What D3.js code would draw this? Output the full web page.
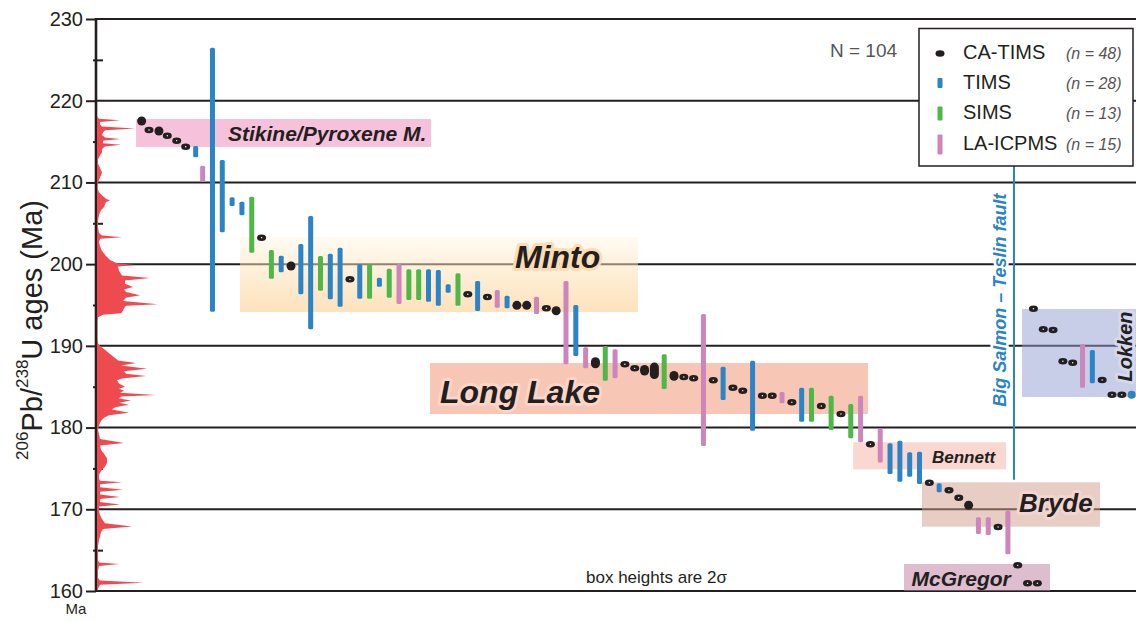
<!DOCTYPE html>
<html>
<head>
<meta charset="utf-8">
<script src="https://cdn.jsdelivr.net/npm/d3@7"></script>
<style>
  html, body { margin: 0; padding: 0; background: #fff; }
  svg { display: block; font-family: "Liberation Sans", Arial, Helvetica, sans-serif; }
</style>
</head>
<body>
<svg id="chart" width="1136" height="622"></svg>
<script>
// ---- Samples: plot order, analytical method and 2-sigma age bounds (Ma) ----
const sampleOrder = [
  1.79, 2.54, 3.55, 4.40, 5.36, 6.27, 7.29, 8, 9, 10,
  11, 12, 13, 14, 15, 16, 17, 18, 19, 20,
  21, 22, 23, 24, 25, 26, 27, 28, 29, 30,
  31, 32, 33, 34, 35, 36, 37, 38, 39, 40,
  41, 42, 43, 44, 45, 46, 47, 48, 49, 50,
  51, 52, 53, 54, 55, 56, 57, 58, 59, 60,
  61, 62, 63, 64, 65, 66, 67, 68, 69, 70,
  71, 72, 73, 74, 75, 76, 77, 78, 79, 80,
  81, 82, 83, 84, 85, 86, 87, 88, 89, 90,
  91, 92, 93, 92.6, 93.6, 94.6, 95.6, 96.6, 97.6, 98.6,
  99.6, 100.6, 101.6, 102.6
];
// C = CA-TIMS, T = TIMS, S = SIMS, L = LA-ICPMS
const sampleMethod = [
  "C","C","C","C","C","C","T","L","T","T",
  "T","T","S","C","S","T","C","T","T","S",
  "T","T","C","T","S","T","S","L","S","S",
  "T","T","T","S","C","T","C","L","T","C",
  "C","L","C","C","L","T","L","C","S","L",
  "C","C","C","C","S","C","C","C","L","C",
  "T","C","C","T","C","C","L","C","T","S",
  "C","S","C","S","L","C","L","T","T","T",
  "T","C","T","C","C","C","L","L","C","L",
  "C","C","C","C","C","C","C","C","L","T",
  "C","C","C","T"
];
const ageLow = [
  216.97, 216.27, 215.74, 215.57, 214.96, 214.22, 213.08, 210.05, 194.18, 203.90,
  207.12, 205.98, 201.40, 203.09, 198.22, 199.00, 199.22, 196.31, 192.03, 196.75,
  195.70, 194.79, 197.99, 195.77, 195.77, 197.24, 195.89, 195.12, 195.61, 195.61,
  195.40, 194.91, 196.50, 194.91, 195.91, 194.27, 195.58, 194.67, 194.60, 194.41,
  194.41, 193.90, 194.45, 193.75, 187.74, 188.76, 187.25, 187.26, 185.74, 186.03,
  187.59, 187.10, 186.36, 185.95, 184.72, 185.73, 186.04, 185.88, 177.75, 185.39,
  183.37, 184.73, 184.37, 179.62, 183.75, 183.75, 182.97, 182.95, 180.72, 180.72,
  182.49, 179.70, 181.51, 178.69, 178.20, 177.80, 175.73, 174.32, 173.38, 173.99,
  173.09, 173.10, 172.08, 172.17, 171.27, 169.94, 166.98, 166.85, 167.43, 164.49,
  162.99, 160.79, 160.79, 194.40, 191.88, 191.79, 187.96, 187.79, 184.88, 185.42,
  185.67, 183.87, 183.87, 183.82
];
const ageHigh = [
  218.07, 216.57, 216.84, 215.87, 215.26, 214.52, 214.46, 212.05, 226.49, 212.74,
  208.18, 207.64, 208.25, 203.39, 201.73, 201.03, 200.32, 202.46, 205.89, 200.99,
  201.28, 202.01, 198.29, 199.98, 199.98, 198.34, 199.44, 200.05, 199.37, 199.37,
  199.37, 199.28, 197.53, 198.88, 196.71, 197.94, 196.38, 196.84, 196.14, 195.51,
  195.51, 196.02, 194.75, 194.85, 197.94, 195.00, 189.82, 188.60, 189.98, 189.58,
  187.89, 187.40, 187.66, 187.95, 188.97, 186.93, 186.34, 186.18, 193.90, 186.19,
  187.45, 185.03, 184.67, 188.18, 184.05, 184.05, 184.35, 183.25, 184.88, 184.88,
  182.79, 183.90, 181.81, 182.88, 183.90, 178.10, 179.86, 178.08, 178.39, 176.97,
  177.05, 173.40, 173.18, 172.47, 171.57, 171.04, 169.02, 169.02, 168.23, 169.83,
  163.29, 161.09, 161.09, 194.70, 192.18, 192.09, 188.26, 188.09, 190.23, 189.49,
  185.97, 184.17, 184.17, 184.22
];

// ---- Probability density of all ages (relative units) ----
const pdfAge = [
  218.1, 217.8, 217.6, 217.4, 217.1, 216.85, 216.6, 216.4, 216.1, 215.8,
  215.5, 215.3, 215.1, 214.8, 214.6, 214.4, 214.1, 213.7, 213.3, 212.8,
  212.3, 211.8, 211.2, 210.6, 210.0, 209.3, 208.8, 208.3, 208.0, 207.8,
  207.6, 207.3, 207.0, 206.6, 206.0, 205.3, 204.5, 203.8, 203.5, 203.3,
  203.1, 202.7, 202.2, 201.6, 201.0, 200.5, 200.1, 199.9, 199.7, 199.2,
  198.6, 198.3, 198.0, 197.6, 197.2, 196.9, 196.6, 196.2, 195.9, 195.5,
  195.1, 194.9, 194.6, 194.3, 194.0, 193.8, 193.5, 193.0, 191.0, 190.3,
  190.0, 189.7, 189.3, 188.9, 188.5, 188.2, 187.9, 187.6, 187.2, 186.9,
  186.6, 186.3, 186.0, 185.8, 185.4, 185.0, 184.75, 184.5, 184.25, 184.0,
  183.8, 183.55, 183.3, 183.05, 182.8, 182.5, 182.2, 181.8, 181.5, 181.2,
  180.8, 180.3, 179.7, 179.2, 178.6, 178.1, 177.8, 177.3, 176.8, 176.2,
  175.7, 175.2, 174.7, 174.2, 173.8, 173.5, 173.3, 173.05, 172.7, 172.4,
  172.15, 171.8, 171.5, 171.25, 170.9, 170.6, 170.35, 169.8, 169.3, 168.8,
  168.3, 167.9, 167.6, 167.2, 166.7, 166.2, 165.5, 164.5, 163.8, 163.5,
  163.3, 163.05, 162.5, 161.6, 161.3, 161.0, 160.75, 160.3, 160.0
];
const pdfDensity = [
  0, 2, 23, 3, 3, 5, 38, 8, 6, 5,
  8, 23, 6, 6, 24, 8, 5, 5, 3, 1,
  1, 3, 5, 3, 1, 0.5, 2, 6, 9, 13,
  9, 8, 7, 4, 2, 1, 1, 2, 5, 25,
  3, 2, 3, 5, 9, 13, 20, 38, 21, 22,
  25, 53, 28, 28, 36, 27, 29, 43, 29, 26,
  61, 29, 27, 26, 24, 6, 1, 0.5, 0.5, 1,
  3, 6, 10, 14, 18, 21, 39, 24, 50, 27,
  29, 49, 25, 20, 22, 28, 22, 27, 23, 59,
  24, 22, 34, 22, 32, 18, 15, 32, 12, 7,
  4, 2, 1, 2, 3, 27, 3, 4, 7, 10,
  10, 8, 4, 2, 2, 3, 25, 3, 3, 26,
  3, 3, 23, 3, 3, 23, 2, 2, 3, 5,
  8, 35, 6, 4, 3, 2, 1, 1, 1, 2,
  22, 2, 1, 1, 3, 47, 3, 1, 0
];

// ---- Sample groups: age span and plot-order span ----
const groupName = ["Stikine/Pyroxene M.", "Minto", "Long Lake", "Bennett", "Bryde", "McGregor", "Lokken"];
const groupAgeTop = [217.76, 203.32, 187.90, 178.20, 173.30, 163.30, 194.51];
const groupAgeBottom = [214.34, 194.14, 181.66, 174.89, 167.87, 160.00, 183.74];
const groupOrderStart = [1.22, 11.80, 31.15, 74.24, 81.25, 79.42, 91.44];
const groupOrderEnd = [31.26, 52.33, 75.75, 89.82, 99.38, 94.29, 103.1];

// ---- Axis ticks and legend ----
const majorTicks = [160, 170, 180, 190, 200, 210, 220, 230];
const minorTicks = [165, 175, 185, 195, 205, 215, 225];
const methodCodes = ["C", "T", "S", "L"];
const methodNames = ["CA-TIMS", "TIMS", "SIMS", "LA-ICPMS"];
const methodCounts = [48, 28, 13, 15];

// Fault trace (plot order, age range)
const faultOrder = 90.62;
const faultAgeTop = 212.1;
const faultAgeBottom = 173.6;

// ---------------------------------------------------------------------
const W = 1136, H = 622;
const ink = "#231f20";
const axisX = 96;
const svg = d3.select("#chart");

const y = d3.scaleLinear().domain([160, 230]).range([591, 19]);
const x = d3.scaleLinear().domain([1, 100]).range([133.9, 1106.1]);
const pdfX = d3.scaleLinear().domain([0, 60]).range([axisX + 1, axisX + 61]);

const methodColor = { C: ink, T: "#2a84c6", S: "#4db748", L: "#cd86bb" };

// Box styling (fill is drawn at half opacity so gridlines read through)
const boxStyle = {
  "Stikine/Pyroxene M.": { fill: "rgb(237,133,183)" },
  "Minto": { fill: "url(#mintoGrad)" },
  "Long Lake": { fill: "rgb(241,141,107)" },
  "Bennett": { fill: "rgb(245,175,163)" },
  "Bryde": { fill: "rgb(209,155,137)" },
  "McGregor": { fill: "rgb(187,123,157)" },
  "Lokken": { fill: "rgb(145,155,209)" }
};
// Label placement in data coordinates (plot order, age of baseline)
const labelLayout = {
  "Stikine/Pyroxene M.": { order: 10.58, age: 215.07, size: 21, halo: null },
  "Minto": { order: 39.81, age: 199.53, size: 32, halo: "rgb(252,220,178)" },
  "Long Lake": { order: 32.17, age: 183.01, size: 32, halo: "rgb(251,214,200)" },
  "Bennett": { order: 82.27, age: 175.66, size: 17, halo: null },
  "Bryde": { order: 91.13, age: 169.67, size: 26, halo: "rgb(240,214,206)" },
  "McGregor": { order: 80.19, age: 160.61, size: 21, halo: null },
  "Lokken": { order: 102.64, age: 189.92, size: 20, halo: "rgb(214,217,238)", rotate: true }
};

// Gradient for the Minto box
const defs = svg.append("defs");
const grad = defs.append("linearGradient").attr("id", "mintoGrad")
  .attr("x1", 0).attr("y1", 0).attr("x2", 0).attr("y2", 1);
grad.append("stop").attr("offset", "0%").attr("stop-color", "rgb(255,246,228)");
grad.append("stop").attr("offset", "100%").attr("stop-color", "rgb(251,197,121)");

// ---- Gridlines ----
svg.append("g").attr("class", "grid")
  .selectAll("line").data(majorTicks).join("line")
  .attr("x1", axisX).attr("x2", W)
  .attr("y1", d => y(d)).attr("y2", d => y(d))
  .attr("stroke", ink).attr("stroke-width", 2);

// ---- Group boxes ----
const groups = groupName.map((name, i) => ({
  name, top: groupAgeTop[i], bottom: groupAgeBottom[i],
  start: groupOrderStart[i], end: groupOrderEnd[i]
}));
svg.append("g").attr("class", "boxes")
  .selectAll("rect").data(groups).join("rect")
  .attr("x", d => x(d.start))
  .attr("y", d => y(d.top))
  .attr("width", d => x(d.end) - x(d.start))
  .attr("height", d => y(d.bottom) - y(d.top))
  .attr("fill", d => boxStyle[d.name].fill)
  .attr("fill-opacity", 0.5);

// ---- Group labels ----
const labelG = svg.append("g").attr("class", "group-labels");
groups.forEach(g => {
  const L = labelLayout[g.name];
  const px = x(L.order), py = y(L.age);
  const t = labelG.append("text")
    .attr("font-size", L.size)
    .attr("font-weight", "bold")
    .attr("font-style", "italic")
    .attr("fill", ink)
    .text(g.name);
  if (L.rotate) {
    t.attr("transform", `translate(${px},${py}) rotate(-90)`).attr("text-anchor", "middle");
  } else {
    t.attr("x", px).attr("y", py);
  }
  if (L.halo) {
    t.attr("stroke", L.halo).attr("stroke-width", 6)
      .attr("stroke-linejoin", "round").attr("paint-order", "stroke");
  }
});

// ---- Sample marks ----
const samples = sampleOrder.map((o, i) => ({
  order: o, method: sampleMethod[i], lo: ageLow[i], hi: ageHigh[i]
}));
const markG = svg.append("g").attr("class", "samples");
samples.forEach(d => {
  const cx = x(d.order);
  const span = y(d.lo) - y(d.hi);
  const cy = (y(d.lo) + y(d.hi)) / 2;
  if (d.method === "C") {
    const h = Math.max(6.5, span), w = 9;
    markG.append("rect")
      .attr("x", cx - w / 2).attr("y", cy - h / 2)
      .attr("width", w).attr("height", h)
      .attr("rx", w / 2).attr("ry", Math.min(h / 2, w / 2))
      .attr("fill", ink);
    if (h < 7.5) {
      markG.append("circle").attr("cx", cx).attr("cy", cy).attr("r", 0.7).attr("fill", "#fff");
    }
  } else if (span < 7.5) {
    markG.append("ellipse")
      .attr("cx", cx).attr("cy", cy).attr("rx", 4).attr("ry", 4)
      .attr("fill", methodColor[d.method]);
  } else {
    const w = 5;
    markG.append("rect")
      .attr("x", cx - w / 2).attr("y", y(d.hi))
      .attr("width", w).attr("height", span)
      .attr("rx", 1.5)
      .attr("fill", methodColor[d.method]);
  }
});

// ---- Fault trace ----
svg.append("line")
  .attr("x1", x(faultOrder)).attr("x2", x(faultOrder))
  .attr("y1", y(faultAgeTop)).attr("y2", y(faultAgeBottom))
  .attr("stroke", "#2a84c6").attr("stroke-width", 2);
svg.append("text")
  .attr("transform", `translate(${x(faultOrder) - 8},${y(195.6)}) rotate(-90)`)
  .attr("text-anchor", "middle")
  .attr("font-size", 18).attr("font-weight", "bold").attr("font-style", "italic")
  .attr("fill", "#2a84c6")
  .attr("stroke", "#fff").attr("stroke-width", 5).attr("paint-order", "stroke")
  .text("Big Salmon \u2013 Teslin fault");

// ---- Legend ----
const leg = svg.append("g").attr("class", "legend");
leg.append("rect").attr("x", 919).attr("y", 28.5).attr("width", 214).attr("height", 137.5)
  .attr("fill", "#fff").attr("stroke", ink).attr("stroke-width", 1.5);
const rowY = [59, 88.5, 119, 150];
methodCodes.forEach((m, i) => {
  const by = rowY[i];
  if (m === "C") {
    leg.append("ellipse").attr("cx", 940).attr("cy", by - 5.5).attr("rx", 4.5).attr("ry", 3.2).attr("fill", ink);
  } else {
    const hh = [0, 10, 14, 20][i];
    leg.append("rect").attr("x", 937.5).attr("y", by - 5.5 - hh / 2).attr("width", 5).attr("height", hh)
      .attr("rx", 1).attr("fill", methodColor[m]);
  }
  leg.append("text").attr("x", 963).attr("y", by).attr("font-size", 20).attr("fill", ink).text(methodNames[i]);
  const nt = leg.append("text").attr("x", 1066).attr("y", by).attr("font-size", 16)
    .attr("font-style", "italic").attr("fill", "#555");
  nt.append("tspan").text("(n = " + methodCounts[i] + ")");
});

// ---- Annotations ----
svg.append("text").attr("x", 830).attr("y", 57).attr("font-size", 19).attr("fill", "#555").text("N = 104");
svg.append("text").attr("x", 586).attr("y", 583).attr("font-size", 17).attr("fill", ink).text("box heights are 2\u03c3");

// ---- Y axis: major ticks with labels ----
const yAxis = d3.axisLeft(y).tickValues(majorTicks).tickSize(10).tickPadding(3).tickFormat(d3.format("d"));
const yg = svg.append("g").attr("transform", `translate(${axisX},0)`).call(yAxis);
yg.select(".domain").remove();
yg.selectAll(".tick line").attr("stroke", ink).attr("stroke-width", 2);
yg.selectAll(".tick text").attr("font-size", 20).attr("fill", ink)
  .attr("font-family", "'Liberation Sans', Arial, sans-serif");

// minor ticks crossing the axis
const yMinor = d3.axisRight(y).tickValues(minorTicks).tickSize(10).tickFormat("");
const ym = svg.append("g").attr("transform", `translate(${axisX - 3},0)`).call(yMinor);
ym.select(".domain").remove();
ym.selectAll(".tick line").attr("stroke", ink).attr("stroke-width", 2);

// axis spine
svg.append("line").attr("x1", axisX).attr("x2", axisX)
  .attr("y1", y(230) - 1).attr("y2", y(160) + 1)
  .attr("stroke", ink).attr("stroke-width", 2.6);

// ---- Probability density along the axis ----
const pdf = pdfAge.map((a, i) => ({ age: a, p: pdfDensity[i] }));
svg.append("path")
  .datum(pdf)
  .attr("fill", "#ef4a50")
  .attr("d", d3.area()
    .y(d => y(d.age))
    .x0(pdfX(0))
    .x1(d => pdfX(d.p)));

// ---- Axis title ----
const yt = svg.append("text")
  .attr("transform", "translate(42,330) rotate(-90)")
  .attr("text-anchor", "middle")
  .attr("font-size", 29).attr("fill", ink);
yt.append("tspan").attr("font-size", 17).attr("dy", -14).text("206");
yt.append("tspan").attr("dy", 14).text("Pb/");
yt.append("tspan").attr("font-size", 17).attr("dy", -14).text("238");
yt.append("tspan").attr("dy", 14).text("U ages (Ma)");

svg.append("text").attr("x", 76).attr("y", 614).attr("text-anchor", "middle")
  .attr("font-size", 15).attr("fill", ink).text("Ma");
</script>
</body>
</html>
